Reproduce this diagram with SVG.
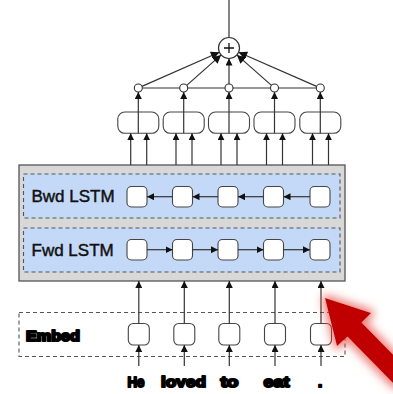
<svg xmlns="http://www.w3.org/2000/svg" width="393" height="394" viewBox="0 0 393 394">
  <style>
    .ln { stroke: #333; stroke-width: 1.2; fill: none; }
    .arr { stroke: #333; stroke-width: 1.2; fill: none; marker-end: url(#tri); }
    .big { marker-end: url(#triBig); }
    .cell { fill: #fff; stroke: #444; stroke-width: 1.1; }
    .dash { fill: none; stroke: #555; stroke-width: 1.1; stroke-dasharray: 4 3; }
    .panel { fill: #c4d8f7; stroke: #555; stroke-width: 1.1; stroke-dasharray: 4 3; }
    .lbl { font-family: "Liberation Sans", Arial, sans-serif; font-size: 17px; fill: #111; stroke: #111; stroke-width: 0.45; }
    .smear { font-family: "Liberation Sans", Arial, sans-serif; font-size: 14px; font-weight: bold; fill: #000; stroke: #000; stroke-width: 2; stroke-linejoin: round; }
    .word { font-size: 15px; }
  </style>
  <defs>
    <marker id="tri" viewBox="0 0 10 10" refX="10" refY="5" markerUnits="userSpaceOnUse" markerWidth="7" markerHeight="7" orient="auto">
      <path d="M0,0 L10,5 L0,10 z" fill="#111"/>
    </marker>
    <marker id="triBig" viewBox="0 0 10 10" refX="10" refY="5" markerUnits="userSpaceOnUse" markerWidth="9" markerHeight="8.5" orient="auto">
      <path d="M0,0 L10,5 L0,10 z" fill="#111"/>
    </marker>
    <filter id="glow" x="-30%" y="-30%" width="160%" height="160%">
      <feMorphology in="SourceAlpha" operator="dilate" radius="2.5" result="d"/>
      <feGaussianBlur in="d" stdDeviation="4" result="b"/>
      <feFlood flood-color="#e5453c" flood-opacity="0.65"/>
      <feComposite in2="b" operator="in" result="g"/>
      <feMerge><feMergeNode in="g"/><feMergeNode in="SourceGraphic"/></feMerge>
    </filter>
  </defs>

  <!-- sum node -->
  <g id="sum">
    <circle cx="229" cy="48" r="10.5" fill="#fff" stroke="#333" stroke-width="1.2"/>
    <path d="M224,48 H234 M229,43 V53" stroke="#111" stroke-width="1.3"/>
  </g>

  <!-- per-position joints -->
  <g id="joints" fill="#fff" stroke="#333" stroke-width="1.1">
    <circle cx="138.3" cy="88" r="4"/>
    <circle cx="183.7" cy="88" r="4"/>
    <circle cx="229" cy="88" r="4"/>
    <circle cx="274.5" cy="88" r="4"/>
    <circle cx="320.3" cy="88" r="4"/>
  </g>

  <!-- concatenated outputs -->
  <g id="outputs">
    <rect class="cell" x="117.8" y="112" width="41" height="21.3" rx="7"/>
    <rect class="cell" x="163.2" y="112" width="41" height="21.3" rx="7"/>
    <rect class="cell" x="208.5" y="112" width="41" height="21.3" rx="7"/>
    <rect class="cell" x="254" y="112" width="41" height="21.3" rx="7"/>
    <rect class="cell" x="299.8" y="112" width="41" height="21.3" rx="7"/>
  </g>

  <!-- BiLSTM block -->
  <g id="bilstm">
    <rect x="19" y="165" width="326" height="116" fill="#d8d8d8" stroke="#555" stroke-width="1.3"/>
  </g>
  <g id="bwd">
    <rect class="panel" x="23.5" y="174" width="316.5" height="44"/>
    <text class="lbl" x="31.5" y="202.3">Bwd LSTM</text>
    <rect class="cell" x="127" y="186.5" width="20" height="20.5" rx="4.5"/>
    <rect class="cell" x="172.5" y="186.5" width="20" height="20.5" rx="4.5"/>
    <rect class="cell" x="218" y="186.5" width="20" height="20.5" rx="4.5"/>
    <rect class="cell" x="263.5" y="186.5" width="20" height="20.5" rx="4.5"/>
    <rect class="cell" x="310" y="186.5" width="20" height="20.5" rx="4.5"/>
  </g>
  <g id="fwd">
    <rect class="panel" x="23.5" y="228" width="316.5" height="44"/>
    <text class="lbl" x="31.5" y="256">Fwd LSTM</text>
    <rect class="cell" x="127" y="239.5" width="20" height="20.5" rx="4.5"/>
    <rect class="cell" x="172.5" y="239.5" width="20" height="20.5" rx="4.5"/>
    <rect class="cell" x="218" y="239.5" width="20" height="20.5" rx="4.5"/>
    <rect class="cell" x="263.5" y="239.5" width="20" height="20.5" rx="4.5"/>
    <rect class="cell" x="310" y="239.5" width="20" height="20.5" rx="4.5"/>
  </g>

  <!-- embedding layer -->
  <g id="embed">
    <rect class="dash" x="19" y="312.5" width="326" height="44"/>
    <text class="smear" x="26" y="340.5" textLength="54" lengthAdjust="spacingAndGlyphs">Embed</text>
    <rect class="cell" x="128.3" y="323.5" width="21" height="21.5" rx="5"/>
    <rect class="cell" x="173.8" y="323.5" width="21" height="21.5" rx="5"/>
    <rect class="cell" x="218.8" y="323.5" width="21" height="21.5" rx="5"/>
    <rect class="cell" x="264.5" y="323.5" width="21" height="21.5" rx="5"/>
    <rect class="cell" x="310.5" y="323.5" width="21" height="21.5" rx="5"/>
  </g>

  <!-- input words -->
  <g id="words">
    <text class="smear word" x="127.5" y="386.5" textLength="17" lengthAdjust="spacingAndGlyphs">He</text>
    <text class="smear word" x="161" y="386.5" textLength="45" lengthAdjust="spacingAndGlyphs">loved</text>
    <text class="smear word" x="220.5" y="386.5" textLength="18" lengthAdjust="spacingAndGlyphs">to</text>
    <text class="smear word" x="263.5" y="386.5" textLength="26" lengthAdjust="spacingAndGlyphs">eat</text>
    <text class="smear word" x="318" y="386.5">.</text>
  </g>

  <!-- connectors -->
  <g id="connectors">
    <path class="ln" d="M229,0 V37.5"/>
    <path class="ln" d="M142.3,88 H179.7 M187.7,88 H225 M233,88 H270.5 M278.5,88 H316.3"/>
    <path class="arr big" d="M141.9,86.4 L219.4,52.2"/>
    <path class="arr big" d="M186.7,85.4 L221.1,54.9"/>
    <path class="arr" d="M229,84 V58.5"/>
    <path class="arr big" d="M271.5,85.4 L236.9,54.9"/>
    <path class="arr big" d="M316.6,86.4 L238.6,52.2"/>
    <!-- outputs to joints -->
    <path class="ln" d="M138.3,112 V133.3 M183.7,112 V133.3 M229,112 V133.3 M274.5,112 V133.3 M320.3,112 V133.3"/>
    <path class="arr" d="M138.3,112 V92"/>
    <path class="arr" d="M183.7,112 V92"/>
    <path class="arr" d="M229,112 V92"/>
    <path class="arr" d="M274.5,112 V92"/>
    <path class="arr" d="M320.3,112 V92"/>
    <!-- BiLSTM to outputs -->
    <path class="arr" d="M130.7,165 V133.3"/>
    <path class="arr" d="M146.7,165 V133.3"/>
    <path class="arr" d="M176,165 V133.3"/>
    <path class="arr" d="M192,165 V133.3"/>
    <path class="arr" d="M221,165 V133.3"/>
    <path class="arr" d="M237,165 V133.3"/>
    <path class="arr" d="M266.5,165 V133.3"/>
    <path class="arr" d="M282.5,165 V133.3"/>
    <path class="arr" d="M312.5,165 V133.3"/>
    <path class="arr" d="M328.5,165 V133.3"/>
    <!-- backward recurrence -->
    <path class="arr" d="M172.5,196.7 H147"/>
    <path class="arr" d="M218,196.7 H192.5"/>
    <path class="arr" d="M263.5,196.7 H238"/>
    <path class="arr" d="M310,196.7 H283.5"/>
    <!-- forward recurrence -->
    <path class="arr" d="M147,249.7 H172.5"/>
    <path class="arr" d="M192.5,249.7 H218"/>
    <path class="arr" d="M238,249.7 H263.5"/>
    <path class="arr" d="M283.5,249.7 H310"/>
    <!-- embeddings to BiLSTM -->
    <path class="arr" d="M138.8,323.5 V281"/>
    <path class="arr" d="M184.3,323.5 V281"/>
    <path class="arr" d="M229.3,323.5 V281"/>
    <path class="arr" d="M275,323.5 V281"/>
    <path class="arr" d="M321,323.5 V281"/>
    <!-- words to embeddings -->
    <path class="arr" d="M138.8,366 V345"/>
    <path class="arr" d="M184.3,366 V345"/>
    <path class="arr" d="M229.3,366 V345"/>
    <path class="arr" d="M275,366 V345"/>
    <path class="arr" d="M321,366 V345"/>
  </g>

  <!-- pointer arrow -->
  <g id="pointer" filter="url(#glow)">
    <polygon fill="#c00000" points="325,298 371,313 361.5,322.5 410,372 396,386 347.5,336.5 337,346"/>
  </g>
</svg>
